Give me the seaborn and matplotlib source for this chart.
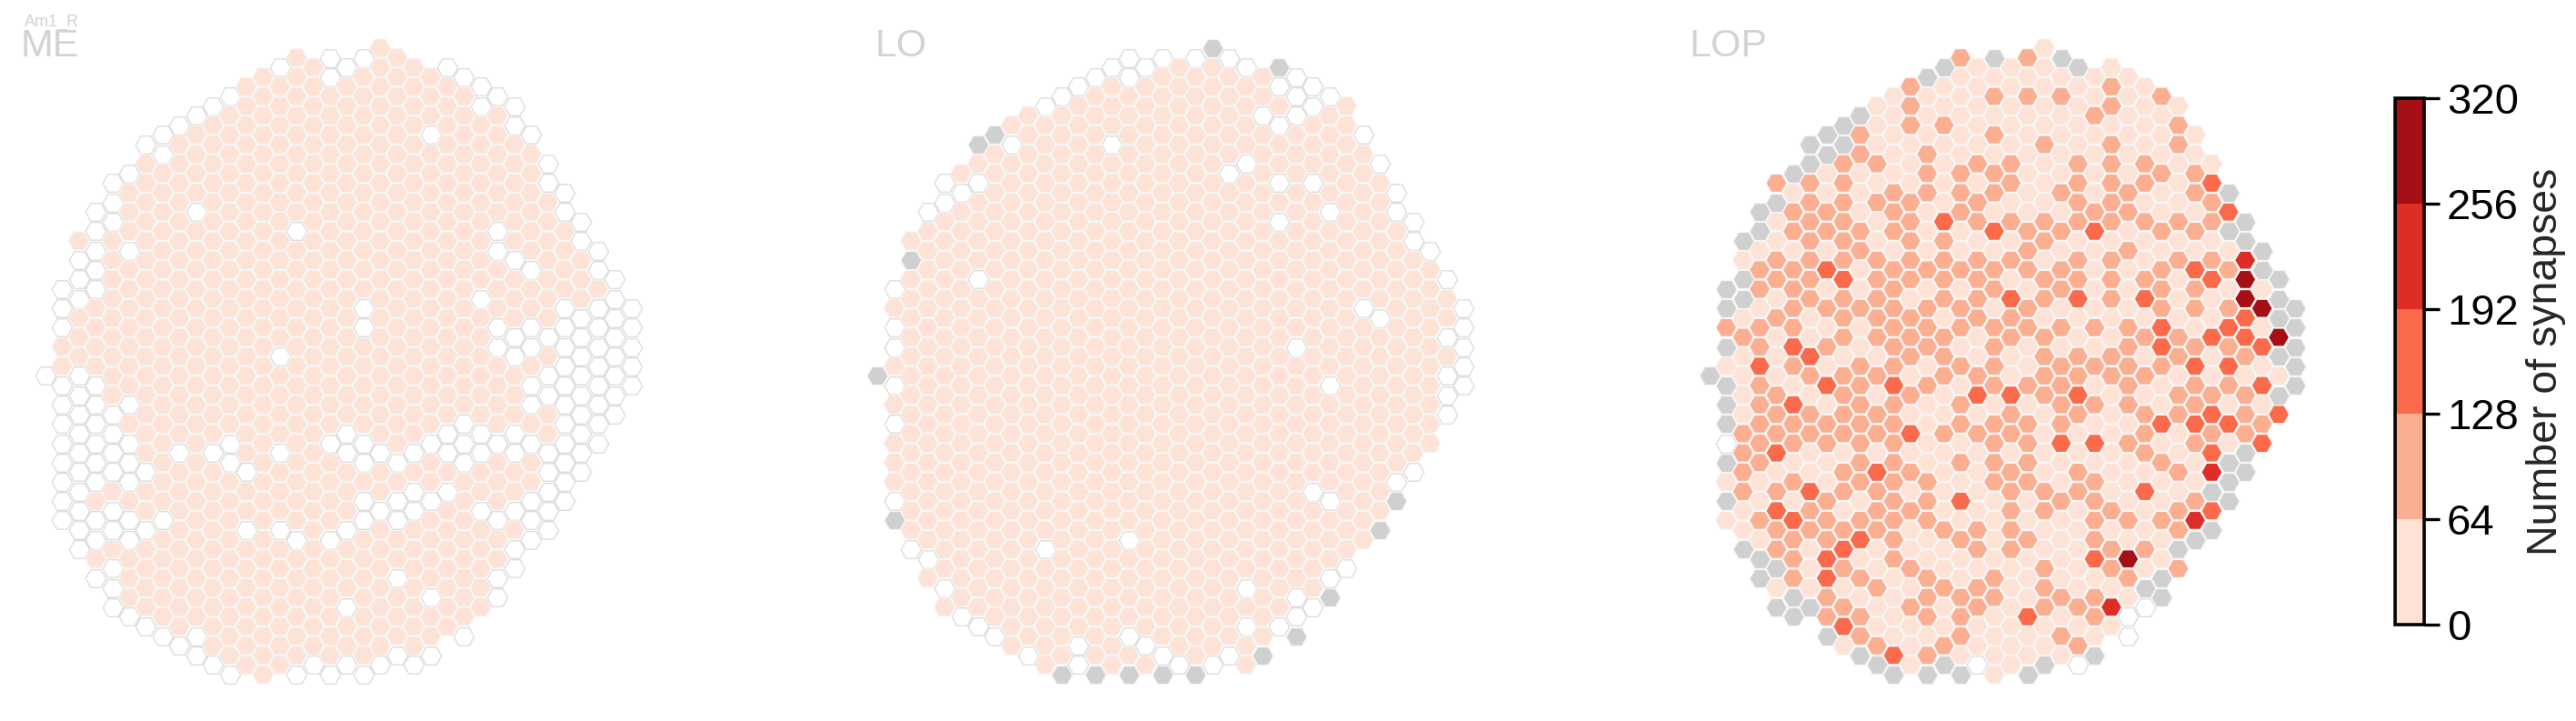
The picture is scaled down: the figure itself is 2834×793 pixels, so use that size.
# -*- coding: utf-8 -*-
import numpy as np
import pandas as pd
import seaborn as sns
import matplotlib.pyplot as plt
from matplotlib.cm import ScalarMappable
from matplotlib.colors import BoundaryNorm, ListedColormap

## data --------------------------------------------------------------------------------------
# one string per hex column, read top to bottom. 1-5 = colour bin, w = no synapses, g = grey cell

me_start = [34, 25, 20, 17, 14, 13, 10, 9, 8, 7, 6, 5, 4, 3, 2, 1, 2, 1, 2, 1, 0, 1, 2, 3, 2, 3, 4, 5, 6, 9, 12, 15, 18, 21, 24, 27]
me_cells = ["w", "www11wwwwwwww", "1www111wwwwwwwwww", "wwwww1111wwwwww1ww1w",
            "www111111111wwww1ww1www", "w111w1111111w1www1ww111w",
            "w1111111111111111w11w1111w", "ww111111111111111111w11111w",
            "w1111111111111111w111111111w", "w1111w111111111111111111111ww",
            "w11111111111111111w1111111111w", "w11111111111111111ww1111111111w",
            "11111111111111111111w11w1111111", "11111111111111111111111111111111",
            "w11111111111111w1111w111w1111111", "111111111w111111111111111w111111w",
            "1111111111111111111111111111111w", "ww111111111111111111w1111w111111w",
            "w111111111111111111ww111w111w11w", "w111111111111ww11111ww1ww1111111w",
            "111111111111111111111w11w1111111w", "111111111111111111111w1ww11w111w",
            "11111111111111111111w1ww1111111w", "111w111111111111111w11w1111w11w",
            "w111111111111111111ww1w1111111", "w11111111111111111www11111111w",
            "ww111111111w111111ww11w11111", "w111111ww111ww1111w111w11ww",
            "ww111111w111ww111ww11w1ww", "w111111w11ww1ww1w11www",
            "ww1111111w1ww11wwwww", "ww1111wwwwwwwwwww", "ww111wwwwwwwww",
            "ww1wwwwwwww", "wwwwwwww", "wwwww"]

lo_start = [34, 25, 20, 17, 14, 13, 10, 9, 8, 7, 6, 5, 4, 3, 2, 1, 2, 1, 2, 1, 0, 1, 2, 3, 2, 3, 4, 5, 6, 9, 12, 15, 18, 21, 24, 27]
lo_cells = ["g", "w1ww1w1w111wg", "1g11111111111111w", "w11111111111111111w1",
            "ww1111111111111111111w1", "1w111111111111111111111w",
            "g1w1111w11111111111111111w", "g1111111111111111111111111w",
            "1w11111111111111111111111111", "1111111111111111111111111111w",
            "w1111111111111111111111w111111", "w11111111111111111111111111111g",
            "w1111111111111111111111111111ww", "w111111111111111111111111111111g",
            "w111w111111111111111111111111111", "ww11111111111111111111111w1111w1g",
            "w11111111111111111111111111111w1", "w111111111111111111111111111111wg",
            "1111111111111111111111111111111w", "w1111111111111111111111111111111g",
            "g1111111111111111111111111111111w", "w11111w111111111111111111111111w",
            "w1111w111111111111111111111w1w11", "11w111111111111111111111111111g",
            "gw1w11w1w11111111111111111111w", "www11111111111w111111111111wwg",
            "ww111w111111111111111w11111w", "w11111w11111111w11111w111wg",
            "111111111111111111111111w", "w11111111w111111111111",
            "w1111111w1111111111g", "ww1111111111111wg", "ww11111111111w",
            "w1111111111", "w11w1www", "wwwww"]

lop_start = [34, 25, 20, 17, 14, 13, 10, 9, 8, 7, 6, 5, 4, 3, 2, 1, 2, 1, 2, 1, 0, 1, 2, 3, 2, 3, 4, 5, 6, 9, 12, 15, 18, 21, 24, 27]
lop_cells = ["g", "gg2g1gggwg1g1", "g1gg121111222211g", "gg1221223222221121gg",
             "2g112212111222312322g1g", "g122122223213221213222gg",
             "gg2222222113212211322111g", "gg112213121213122112223322g",
             "gg222222322212222122" "12321231", "g2211122112112222222" "12312122g",
             "1112121122" "2221212213" "222112112g", "1111122212" "2222232222" "2222211113" "g",
             "2221112222" "2122212131" "2121121211" "1", "g111222111" "2122212111" "1222112221" "2g",
             "g112111132" "2221222112" "1111211211" "2g", "2111112221" "1212212122" "1213121122" "21g",
             "1111121221" "2222112312" "1111221221" "1w", "g121212213" "1221222212" "2221111221" "111",
             "1111122121" "2132211322" "1222221111" "11", "2121111112" "2212211212" "2221121113" "11g",
             "1111121112" "2122122221" "1112211222" "11g", "g121111212" "1221212222" "3112111121" "21",
             "g111122221" "2231122321" "1221111121" "2w", "1121111231" "1112121213" "1222231221" "g",
             "1221222221" "2221122111" "1112122141", "1111112212" "1112222212" "11121521ww",
             "1111221211" "2312121222" "131121gw", "2111211212" "2233211312" "11211gg",
             "1221112121" "1122122112" "122g2", "1122121322" "1232232112" "4g",
             "1322123113" "1123234g3g", "g3g1212323" "2131ggg", "gg4553321222gg",
             "gg151313123", "ggg5g1g3", "ggggg"]

region_names = ['ME', 'LO', 'LOP']
cell_type = 'Am1_R'
bin_edges = [0, 64, 128, 192, 256, 320]
bin_colors = ['#fee2d5', '#fcae91', '#fb6a4a', '#de2d26', '#a50f15']
cbar_label = 'Number of synapses'

## helpers --------------------------------------------------------------------------------------

W, H = 2834, 793
COL_PX, ROW_PX = 18.42, 10.6
TOP_PX = 53

def column_frame(starts, cells):
    rows = []
    for col, (start, text) in enumerate(zip(starts, cells)):
        for i, code in enumerate(text):
            rows.append({'col': col, 'row': start + 2*i, 'code': code})
    return pd.DataFrame(rows)

def draw_panel(df, x0):
    # x0 = pixel position of the first hex column
    left = x0 - 50
    right = x0 + 35*COL_PX + 50
    ax = fig.add_axes([left/W, 0, (right-left)/W, 1])
    filled = df[~df.code.isin(['w', 'g'])]
    empty = df[df.code == 'w']
    grey = df[df.code == 'g']
    sns.scatterplot(data=empty, x='col', y='row', marker='H', s=262, color='white',
                    edgecolor='#dcdcdc', linewidth=0.95, legend=False, ax=ax)
    sns.scatterplot(data=grey, x='col', y='row', marker='H', s=275, color='#d0d0d0',
                    edgecolor='#f5f5f5', linewidth=0.9, legend=False, ax=ax)
    sns.scatterplot(data=filled, x='col', y='row', hue='code', marker='H', s=275,
                    palette=dict(zip('12345', bin_colors)), hue_order=list('12345'),
                    edgecolor='#f5f5f5', linewidth=0.9, legend=False, ax=ax)
    ax.set_xlim(-50/COL_PX, 35 + 50/COL_PX)
    ax.set_ylim((H - TOP_PX)/ROW_PX, -TOP_PX/ROW_PX)
    ax.axis('off')

## plot --------------------------------------------------------------------------------------

sns.set_style('white')
plt.rcParams['font.family'] = ['Liberation Sans', 'DejaVu Sans']

fig = plt.figure(figsize=(W/100, H/100), dpi=100)

draw_panel(column_frame(me_start, me_cells), 49.9)
draw_panel(column_frame(lo_start, lo_cells), 965.4)
draw_panel(column_frame(lop_start, lop_cells), 1880.7)

for name, x in zip(region_names, [22, 962, 1859]):
    fig.text(x/W, 1 - 62/H, name, fontsize=31, color='#d3d3d3', ha='left', va='baseline')
fig.text(27/W, 1 - 29/H, cell_type, fontsize=13, color='#d3d3d3', ha='left', va='baseline')

# colorbar
cax = fig.add_axes([2635/W, 1 - 687/H, 32/W, 579/H])
cmap = ListedColormap(bin_colors)
norm = BoundaryNorm(bin_edges, cmap.N)
cb = fig.colorbar(ScalarMappable(norm=norm, cmap=cmap), cax=cax, ticks=bin_edges, spacing='proportional')
cb.outline.set_linewidth(2.6)
cb.outline.set_edgecolor('black')
cb.ax.tick_params(length=12, width=2.4, labelsize=34, pad=6, color='black', labelcolor='black')
cb.ax.yaxis.set_ticks_position('right')
cb.set_label(cbar_label, fontsize=33.5, labelpad=6)

fig.savefig('out.png', dpi=100, facecolor='white')
